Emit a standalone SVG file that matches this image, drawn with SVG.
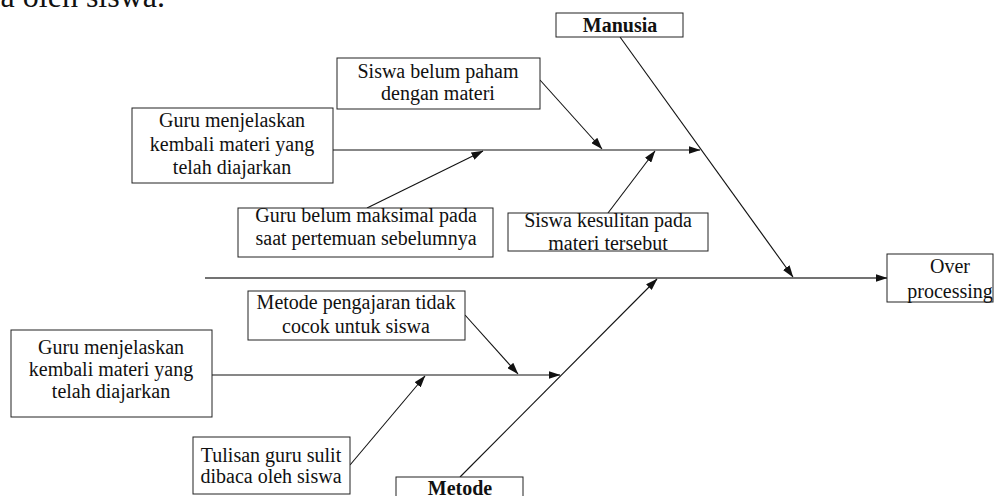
<svg xmlns="http://www.w3.org/2000/svg" width="1006" height="496" viewBox="0 0 1006 496">
  <style>
    .box { fill: #fff; stroke: #222; stroke-width: 1; }
    .t { font-family: "Liberation Serif", "Times New Roman", serif; font-size: 20px; fill: #111; text-anchor: middle; }
    .b { font-weight: bold; }
    .ln { stroke: #111; stroke-width: 1.1; fill: none; marker-end: url(#ah); }
    .spine { stroke: #444; stroke-width: 1.6; fill: none; marker-end: url(#ah); }
  </style>
  <defs>
    <marker id="ah" markerWidth="12" markerHeight="8" refX="11.5" refY="4" orient="auto" markerUnits="userSpaceOnUse">
      <path d="M0,0 L12,4 L0,8 z" fill="#111"/>
    </marker>
  </defs>

  <rect width="1006" height="496" fill="#fff"/>

  <!-- tail of the preceding paragraph line -->
  <text x="165" y="7" text-anchor="end" font-family="Liberation Serif, Times New Roman, serif" font-size="32" fill="#111">ca oleh siswa.</text>

  <g id="connectors">
    <!-- main spine to the effect -->
    <path class="spine" d="M205,278 L887,278"/>
    <!-- Manusia category bone -->
    <path class="ln" d="M620,37 L793,277"/>
    <path class="ln" d="M333,150 L700,150"/>
    <path class="ln" d="M540,80 L602,149"/>
    <path class="ln" d="M367,208 L483,151"/>
    <path class="ln" d="M608,213 L655,151"/>
    <!-- Metode category bone -->
    <path class="ln" d="M460,477 L657,279"/>
    <path class="ln" d="M212,375 L560,375"/>
    <path class="ln" d="M465,315 L518,374"/>
    <path class="ln" d="M350,465 L425,376"/>
  </g>

  <g id="manusia">
    <rect class="box" x="556" y="13" width="127" height="24"/>
    <text class="t b" x="620" y="32">Manusia</text>
  </g>

  <g id="metode">
    <rect class="box" x="396" y="477" width="127" height="30"/>
    <text class="t b" x="460" y="495">Metode</text>
  </g>

  <g id="over-processing">
    <rect class="box" x="887" y="254" width="106" height="48"/>
    <text class="t" x="950" y="273">Over</text>
    <text class="t" x="950" y="298">processing</text>
  </g>

  <g id="guru-menjelaskan-atas">
    <rect class="box" x="132" y="108" width="201" height="75"/>
    <text class="t" x="232" y="127">Guru menjelaskan</text>
    <text class="t" x="232" y="151">kembali materi yang</text>
    <text class="t" x="232" y="174">telah diajarkan</text>
  </g>

  <g id="siswa-belum-paham">
    <rect class="box" x="337" y="58" width="203" height="51"/>
    <text class="t" x="438" y="78">Siswa belum paham</text>
    <text class="t" x="438" y="100">dengan materi</text>
  </g>

  <g id="guru-belum-maksimal">
    <rect class="box" x="238" y="208" width="255" height="49"/>
    <text class="t" x="366" y="222">Guru belum maksimal pada</text>
    <text class="t" x="366" y="245">saat pertemuan sebelumnya</text>
  </g>

  <g id="siswa-kesulitan">
    <rect class="box" x="508" y="213" width="200" height="38"/>
    <text class="t" x="608" y="227">Siswa kesulitan pada</text>
    <text class="t" x="608" y="250">materi tersebut</text>
  </g>

  <g id="metode-pengajaran">
    <rect class="box" x="248" y="291" width="217" height="49"/>
    <text class="t" x="356" y="309">Metode pengajaran tidak</text>
    <text class="t" x="356" y="333">cocok untuk siswa</text>
  </g>

  <g id="guru-menjelaskan-bawah">
    <rect class="box" x="11" y="330" width="201" height="87"/>
    <text class="t" x="111" y="354">Guru menjelaskan</text>
    <text class="t" x="111" y="376">kembali materi yang</text>
    <text class="t" x="111" y="398">telah diajarkan</text>
  </g>

  <g id="tulisan-guru">
    <rect class="box" x="193" y="437" width="157" height="57"/>
    <text class="t" x="271" y="462">Tulisan guru sulit</text>
    <text class="t" x="271" y="483">dibaca oleh siswa</text>
  </g>
</svg>
